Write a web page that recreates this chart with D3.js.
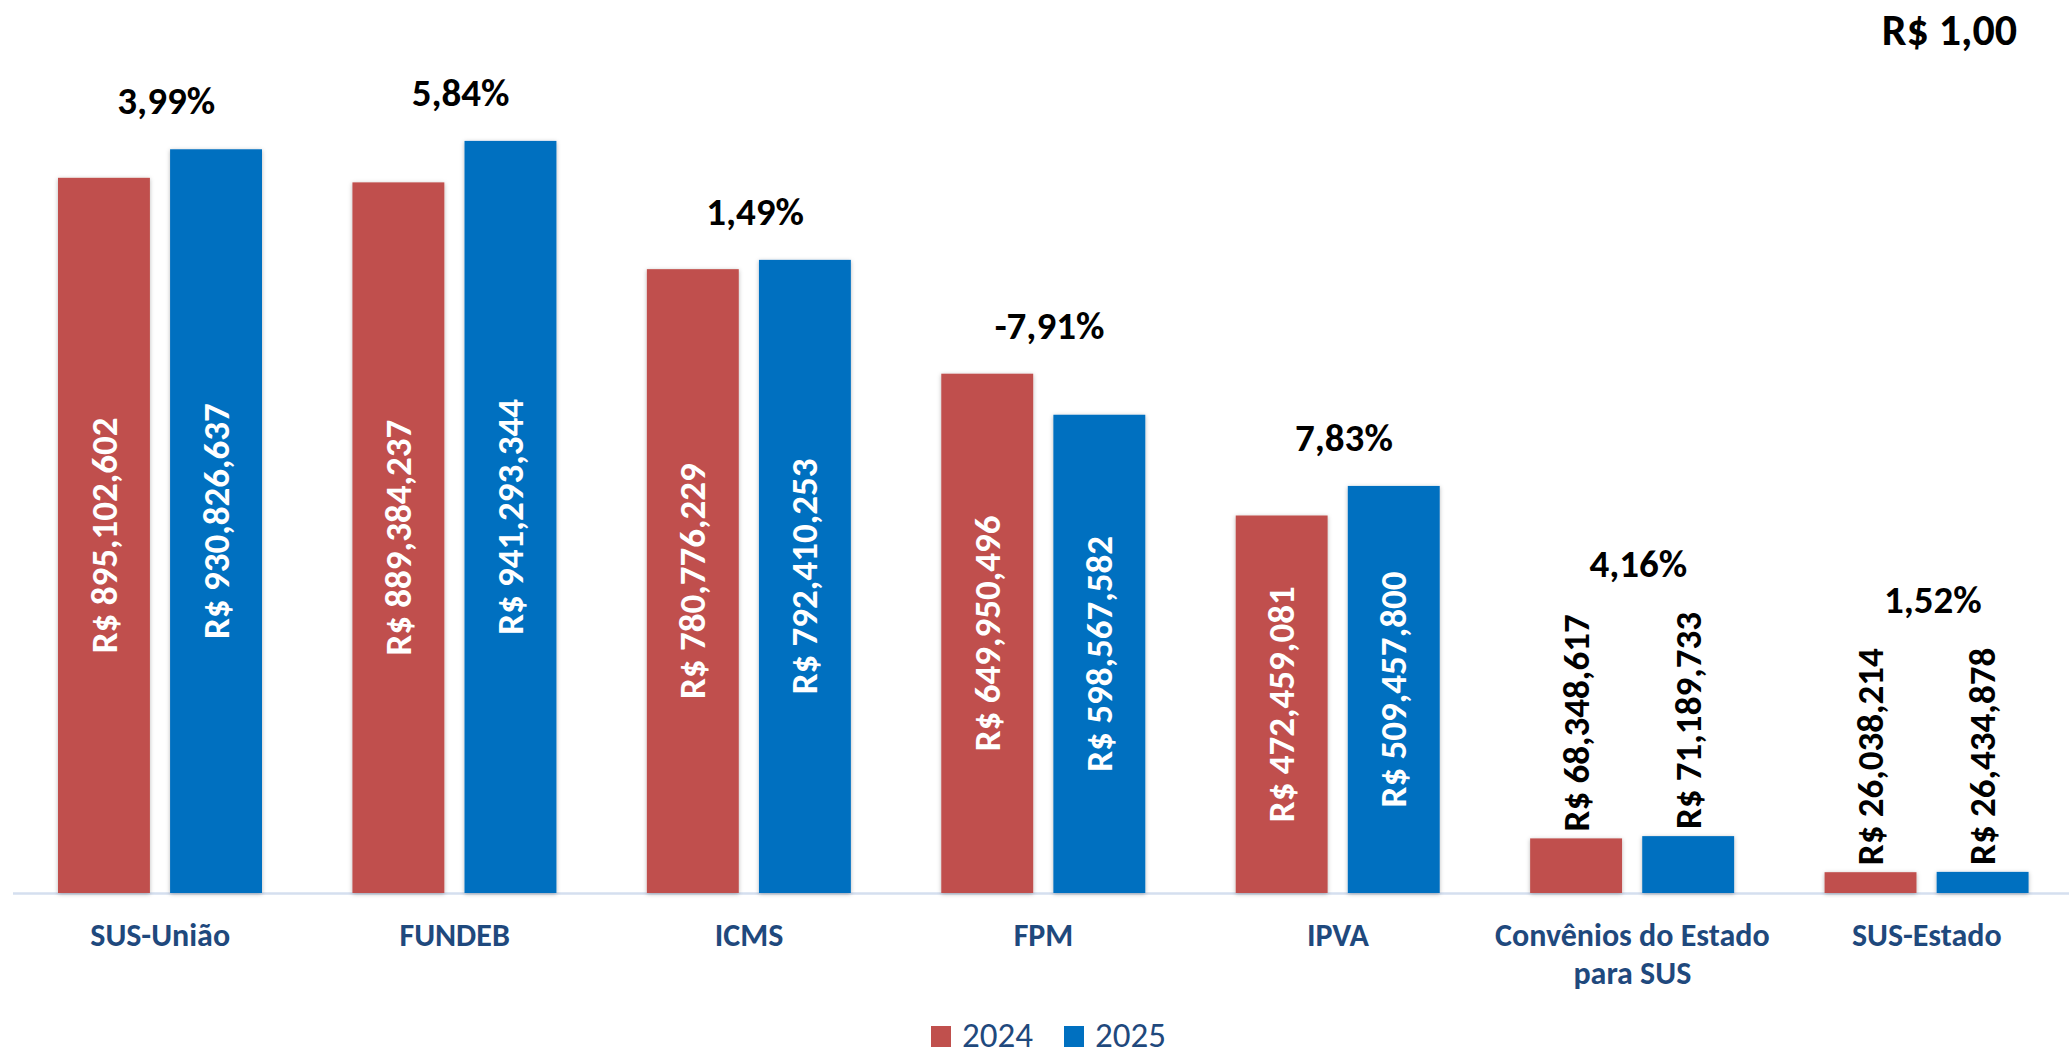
<!DOCTYPE html>
<html>
<head>
<meta charset="utf-8">
<script src="https://cdn.jsdelivr.net/npm/d3@7/dist/d3.min.js"></script>
<style>
  html, body { margin: 0; padding: 0; background: #ffffff; }
  svg { display: block; }
  text { font-family: Carlito, Calibri, Lato, "Open Sans", sans-serif; }
</style>
</head>
<body>
<svg id="chart" width="2069" height="1056"></svg>
<script>
// ---- data ----
const categories = [
  ["SUS-União"],
  ["FUNDEB"],
  ["ICMS"],
  ["FPM"],
  ["IPVA"],
  ["Convênios do Estado", "para SUS"],
  ["SUS-Estado"]
];
const seriesNames = ["2024", "2025"];
const values2024 = [895102602, 889384237, 780776229, 649950496, 472459081, 68348617, 26038214];
const values2025 = [930826637, 941293344, 792410253, 598567582, 509457800, 71189733, 26434878];
const growthLabels = ["3,99%", "5,84%", "1,49%", "-7,91%", "7,83%", "4,16%", "1,52%"];
const unitTitle = "R$ 1,00";

const colors = { "2024": "#C0504D", "2025": "#0070C0" };

const W = 2069, H = 1056;
const svg = d3.select("#chart");

const defs = svg.append("defs");
const f = defs.append("filter").attr("id", "shadow")
  .attr("x", "-20%").attr("y", "-20%").attr("width", "140%").attr("height", "140%");
f.append("feDropShadow").attr("dx", 0).attr("dy", 1).attr("stdDeviation", 2.2)
  .attr("flood-color", "#000").attr("flood-opacity", 0.28);

const keys = categories.map(c => c.join(" "));
const data = keys.map((k, i) => ({ key: k, lines: categories[i], growth: growthLabels[i],
  vals: [{ s: "2024", v: values2024[i] }, { s: "2025", v: values2025[i] }] }));

const x0 = d3.scaleBand().domain(keys).range([13, 2074]).padding(0);
const x1 = d3.scaleBand().domain(seriesNames).range([45, 249]).paddingInner(0.18);
const y = d3.scaleLinear().domain([0, 1e9]).range([893, 94]);

// axis line
svg.append("line")
  .attr("x1", 13).attr("x2", W).attr("y1", y(0) + 0.5).attr("y2", y(0) + 0.5)
  .attr("stroke", "#D5DFEF").attr("stroke-width", 2.5);

const fmt = d3.format(",");
const groups = svg.selectAll("g.cat").data(data).join("g")
  .attr("class", "cat")
  .attr("transform", d => `translate(${x0(d.key)},0)`);

groups.selectAll("rect").data(d => d.vals).join("rect")
  .attr("x", d => x1(d.s))
  .attr("y", d => y(d.v))
  .attr("width", x1.bandwidth())
  .attr("height", d => y(0) - y(d.v))
  .attr("fill", d => colors[d.s])
  .attr("filter", "url(#shadow)");

const labelSize = 37;
groups.each(function(d) {
  const g = d3.select(this);
  let topMost = Infinity;
  d.vals.forEach(v => {
    const txt = "R$ " + fmt(v.v);
    const cx = x1(v.s) + x1.bandwidth() / 2;
    const barH = y(0) - y(v.v);
    const t = g.append("text")
      .attr("font-size", labelSize)
      .attr("font-weight", "bold")
      .text(txt);
    if (barH > 300) {
      const cy = (y(v.v) + y(0)) / 2;
      t.attr("transform", `translate(${cx},${cy}) rotate(-90)`)
        .attr("text-anchor", "middle")
        .attr("dy", "0.34em")
        .attr("fill", "#ffffff");
      topMost = Math.min(topMost, y(v.v));
    } else {
      const base = y(v.v) - 7;
      t.attr("transform", `translate(${cx},${base}) rotate(-90)`)
        .attr("text-anchor", "start")
        .attr("dy", "0.34em")
        .attr("fill", "#000000");
      const len = t.node().getComputedTextLength();
      topMost = Math.min(topMost, base - len);
    }
  });
  g.append("text")
    .attr("x", x0.bandwidth() / 2 + 6)
    .attr("y", topMost - 35)
    .attr("text-anchor", "middle")
    .attr("font-size", 39)
    .attr("font-weight", "bold")
    .attr("fill", "#000")
    .text(d.growth);
  const cl = g.append("text")
    .attr("text-anchor", "middle")
    .attr("font-size", 32)
    .attr("font-weight", "bold")
    .attr("fill", "#1F497D");
  d.lines.forEach((ln, i) => {
    cl.append("tspan").attr("x", x0.bandwidth() / 2).attr("y", 946 + i * 38).text(ln);
  });
});

// title
svg.append("text")
  .attr("x", 2017).attr("y", 45)
  .attr("text-anchor", "end")
  .attr("font-size", 44)
  .attr("font-weight", "bold")
  .attr("fill", "#000")
  .text(unitTitle);

// legend
const legend = svg.append("g").attr("class", "legend");
const legendX = [931, 1064];
seriesNames.forEach((s, i) => {
  legend.append("rect")
    .attr("x", legendX[i]).attr("y", 1026).attr("width", 20).attr("height", 21)
    .attr("fill", colors[s]);
  legend.append("text")
    .attr("x", legendX[i] + 31).attr("y", 1047)
    .attr("font-size", 35)
    .attr("fill", "#1F497D")
    .text(s);
});
</script>
</body>
</html>
